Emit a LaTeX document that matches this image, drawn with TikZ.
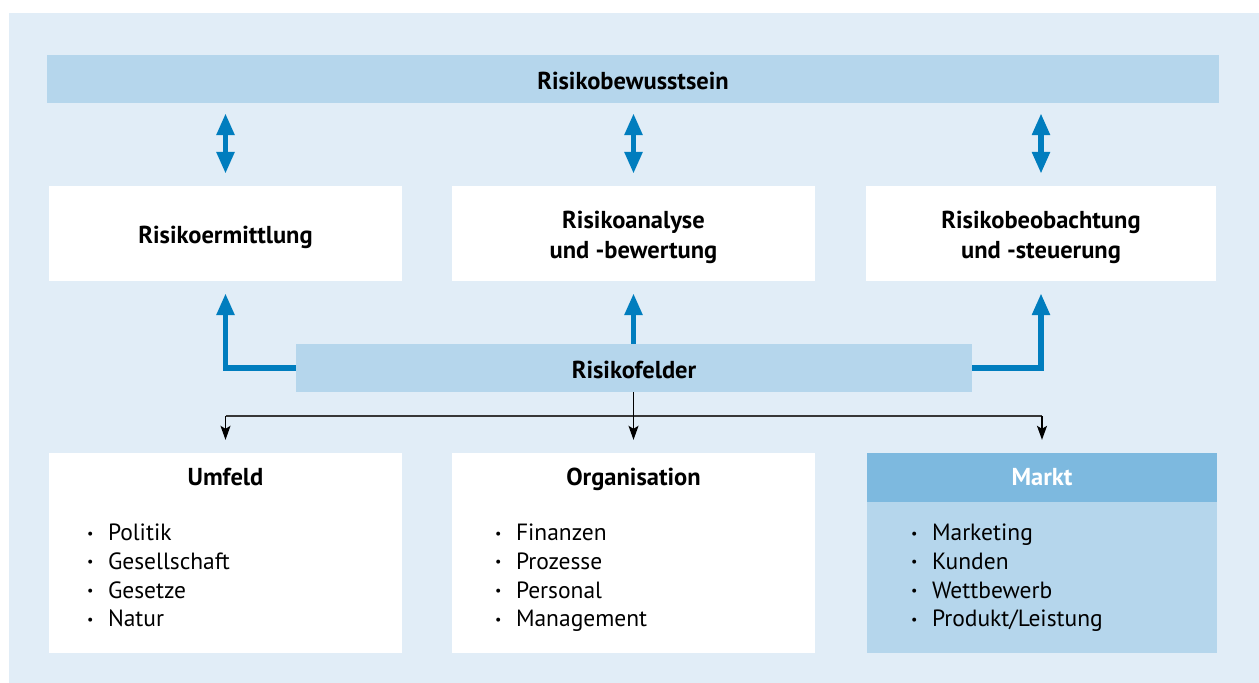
\documentclass[tikz,border=0pt]{standalone}
\usepackage{graphicx}
\usepackage{fontspec}
\setmainfont{PT Sans}
\usetikzlibrary{arrows.meta,calc}
\definecolor{bgblue}{RGB}{225,237,247}
\definecolor{barblue}{RGB}{181,214,236}
\definecolor{headblue}{RGB}{125,185,223}
\definecolor{arrowblue}{RGB}{0,125,190}
\definecolor{railgray}{RGB}{55,55,55}
\newcommand\itembullet{\makebox[22pt][l]{\hspace{1pt}\raisebox{0.22ex}{\scalebox{0.6}{\textbullet}}}}
\begin{document}
\begin{tikzpicture}[x=1pt,y=-1pt,
  labelfont/.style={font=\bfseries\fontsize{24.5}{30}\selectfont},
  labeltext/.style={inner sep=0, align=center, labelfont},
  bar/.style={fill=barblue, inner sep=0},
  stagebox/.style={fill=white, inner sep=0, minimum width=353pt, minimum height=95pt},
  fieldbox/.style={fill=white, inner sep=0, minimum width=353pt, minimum height=200pt},
  headtext/.style={inner sep=0, anchor=base, labelfont},
  item/.style={anchor=base west, inner sep=0, font=\fontsize{23.5}{29}\selectfont},
  bigarrow/.style={draw=arrowblue, line width=5.5pt,
    arrows={-Triangle[width=17pt,length=22pt,fill=arrowblue]}},
  bigdouble/.style={draw=arrowblue, line width=5.5pt,
    arrows={Triangle[width=17pt,length=22pt,fill=arrowblue]-Triangle[width=17pt,length=22pt,fill=arrowblue]}},
  railline/.style={draw=railgray, line width=1.3pt},
  railarrow/.style={draw=black, line width=1.3pt,
    arrows={-Stealth[width=10pt,length=14pt,inset=3pt]}},
]
% canvas and panel
\useasboundingbox (0,0) rectangle (1259,683);
\fill[bgblue] (9,13) rectangle (1259,683);

% awareness bar on top
\node[bar, minimum width=1172pt, minimum height=48pt] (aware) at (633,79) {};
\node[labeltext] (aware-t) at ($(aware.center)+(0,2)$) {Risikobewusstsein};

% three process stages
\node[stagebox] (ermitt) at (225.5,233.5) {};
\node[stagebox, minimum width=363pt] (analyse) at (633.5,233.5) {};
\node[stagebox, minimum width=350pt] (steuer) at (1041,233.5) {};
\node[labeltext] (ermitt-t) at ($(ermitt.center)+(0,4)$) {Risikoermittlung};
\node[labeltext] (analyse-t) at ($(analyse.center)+(0,4)$) {Risikoanalyse\\und -bewertung};
\node[labeltext] (steuer-t) at ($(steuer.center)+(0,4)$) {Risikobeobachtung\\und -steuerung};

% risk fields bar
\node[bar, minimum width=676pt, minimum height=48pt] (felder) at (634,368) {};
\node[labeltext] (felder-t) at ($(felder.center)+(0,2)$) {Risikofelder};

% awareness <-> stages
\foreach \s in {ermitt,analyse,steuer}
  \draw[bigdouble, shorten <=10pt, shorten >=12pt] (aware.south -| \s.north) -- (\s.north);

% risk fields -> stages
\draw[bigarrow, shorten >=12pt] (felder.west) -| (ermitt.south);
\draw[bigarrow, shorten >=12pt] (felder.north -| analyse.south) -- (analyse.south);
\draw[bigarrow, shorten >=12pt] (felder.east) -| (steuer.south);

% the three field boxes
\node[fieldbox] (umfeld) at (225.5,553) {};
\node[fieldbox, minimum width=363pt] (orga) at (633.5,553) {};
\node[fieldbox, minimum width=350pt, fill=barblue] (markt) at (1042,553) {};
\node[fill=headblue, inner sep=0, minimum width=350pt, minimum height=49pt,
      anchor=north] (markthead) at (markt.north) {};

\node[headtext] (umfeld-h) at ($(umfeld.north)+(0,33)$) {Umfeld};
\node[headtext] (orga-h) at ($(orga.north)+(0,33)$) {Organisation};
\node[headtext, text=white] (markt-h) at ($(markt.north)+(0,33)$) {Markt};

% distribution rail from the risk fields to the boxes
\coordinate (rail) at (634,416);
\draw[railline] (rail -| umfeld.north) -- (rail -| markt.north);
\draw[railarrow, shorten >=13pt] (felder.south -| orga.north) -- (orga.north);
\draw[railarrow, shorten >=13pt] (rail -| umfeld.north) -- (umfeld.north);
\draw[railarrow, shorten >=13pt] (rail -| markt.north) -- (markt.north);

% bullet lists
\foreach [count=\i] \t in {Politik,Gesellschaft,Gesetze,Natur}
  \node[item] (umfeld-\i) at ($(umfeld.north west)+(37,{88+28.67*(\i-1)})$) {\itembullet\t};
\foreach [count=\i] \t in {Finanzen,Prozesse,Personal,Management}
  \node[item] (orga-\i) at ($(orga.north west)+(42,{88+28.67*(\i-1)})$) {\itembullet\t};
\foreach [count=\i] \t in {Marketing,Kunden,Wettbewerb,Produkt/Leistung}
  \node[item] (markt-\i) at ($(markt.north west)+(43,{88+28.67*(\i-1)})$) {\itembullet\t};
\end{tikzpicture}
\end{document}
